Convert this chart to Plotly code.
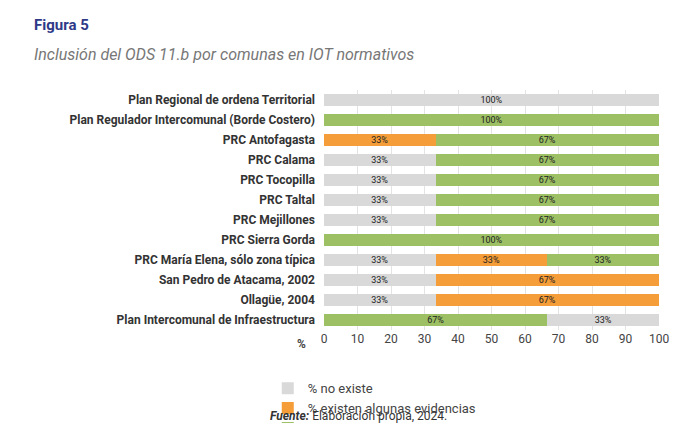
import plotly.graph_objects as go

categorias = [
    "Plan Regional de ordena Territorial",
    "Plan Regulador Intercomunal (Borde Costero)",
    "PRC Antofagasta",
    "PRC Calama",
    "PRC Tocopilla",
    "PRC Taltal",
    "PRC Mejillones",
    "PRC Sierra Gorda",
    "PRC María Elena, sólo zona típica",
    "San Pedro de Atacama, 2002",
    "Ollagüe, 2004",
    "Plan Intercomunal de Infraestructura",
]
# último renglón: primero sistemáticas, luego no existe
sist_primero = [0, 0, 0, 0, 0, 0, 0, 0, 0, 0, 0, 66.7]
no_existe = [100, 0, 0, 33.3, 33.3, 33.3, 33.3, 0, 33.3, 33.3, 33.3, 33.3]
algunas = [0, 0, 33.3, 0, 0, 0, 0, 0, 33.3, 66.7, 66.7, 0]
sistematicas = [0, 100, 66.7, 66.7, 66.7, 66.7, 66.7, 100, 33.4, 0, 0, 0]

GRIS = "#d9d9d9"
NARANJA = "#f59d38"
VERDE = "#9dc064"


def etiquetas(vals):
    return [f"{round(v)}%" if v > 0 else "" for v in vals]


fig = go.Figure()
series = [
    (sist_primero, VERDE, "% evidencias sistemáticas", False),
    (no_existe, GRIS, "% no existe", True),
    (algunas, NARANJA, "% existen algunas evidencias", True),
    (sistematicas, VERDE, "% evidencias sistemáticas", True),
]
for vals, color, nombre, leyenda in series:
    fig.add_trace(go.Bar(
        y=categorias, x=vals, orientation="h", name=nombre,
        marker=dict(color=color, line=dict(width=0)),
        text=etiquetas(vals), textposition="inside", insidetextanchor="middle",
        textfont=dict(size=9, color="#222"), showlegend=leyenda,
        hoverinfo="x+name",
    ))

fig.update_layout(
    barmode="stack", bargap=0.4,
    width=692, height=423,
    margin=dict(l=316, r=41, t=82, b=101, autoexpand=False),
    paper_bgcolor="white", plot_bgcolor="white",
    font=dict(family="Roboto", size=11, color="#333"),
    uniformtext=dict(minsize=8, mode="show"),
    legend=dict(orientation="h", xref="container", x=0.53, xanchor="center",
                y=-0.18, yanchor="top", font=dict(size=13, color="#444"),
                traceorder="normal", itemwidth=30),
    annotations=[
        dict(text="<b>Figura 5</b>", x=24, y=423 - 17, showarrow=False,
             xanchor="left", yanchor="middle",
             font=dict(size=15, color="#2e3a87")),
        dict(text="<i>Inclusión del ODS 11.b por comunas en IOT normativos</i>",
             x=24, y=423 - 46, showarrow=False, xanchor="left", yanchor="middle",
             font=dict(size=16, color="#777")),
        dict(text="<b><i>Fuente:</i></b> Elaboración propia, 2024.",
             x=350, y=423 - 408, showarrow=False, xanchor="center", yanchor="middle",
             font=dict(size=12, color="#333")),
        dict(text="<b>%</b>", x=293, y=423 - 336, showarrow=False,
             xanchor="center", yanchor="middle", font=dict(size=12, color="#444")),
    ],
)
# coordenadas de anotaciones en píxeles -> paper
for a in fig.layout.annotations:
    a.xref = "paper"
    a.yref = "paper"
    a.x = (a.x - 316) / (692 - 316 - 41)
    a.y = (a.y - 101) / (423 - 82 - 101)

fig.update_xaxes(range=[0, 100], dtick=10, showgrid=True, gridcolor="#e3e3e3",
                 zeroline=False, tickfont=dict(size=12, color="#444"), ticks="",
                 automargin=False)
fig.update_yaxes(autorange="reversed", tickfont=dict(size=12, color="#333"),
                 ticklabelstandoff=8, automargin=False,
                 ticktext=[f"<b>{c}</b>" for c in categorias], tickvals=categorias)

fig.write_html("out.html")
